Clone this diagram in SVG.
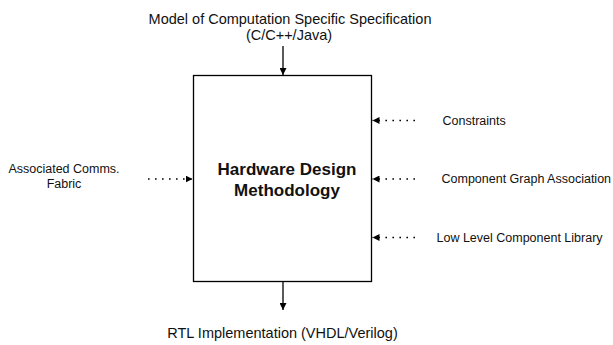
<svg xmlns="http://www.w3.org/2000/svg" width="613" height="345" viewBox="0 0 613 345">
<style>
text{font-family:"Liberation Sans",Arial,sans-serif;fill:#111}
.lbl{font-size:14.5px}
.side{font-size:12.5px}
.title{font-size:17px;font-weight:bold}
.solid{stroke:#000;stroke-width:1.3;fill:none}
.dot{stroke:#000;stroke-width:1.6;fill:none;stroke-dasharray:1.6,5.4}
</style>
<defs>
<marker id="ah" viewBox="0 0 10 10" refX="10" refY="5" markerWidth="7" markerHeight="7" markerUnits="userSpaceOnUse" orient="auto">
<path d="M0,0 L10,5 L0,10 z" fill="#000"/>
</marker>
</defs>
<rect width="613" height="345" fill="#fff"/>
<g id="hdm">
<rect x="193.5" y="75.5" width="178" height="206" fill="#fff" stroke="#000" stroke-width="1.3"/>
<text class="title" x="287" y="175" text-anchor="middle">Hardware Design</text>
<text class="title" x="287" y="196" text-anchor="middle">Methodology</text>
</g>
<g id="spec">
<text class="lbl" x="290" y="23.5" text-anchor="middle">Model of Computation Specific Specification</text>
<text class="lbl" x="289" y="39.5" text-anchor="middle">(C/C++/Java)</text>
</g>
<g id="rtl">
<text class="lbl" x="282.5" y="338" text-anchor="middle">RTL Implementation (VHDL/Verilog)</text>
</g>
<g id="fabric">
<text class="side" x="64" y="173" text-anchor="middle">Associated Comms.</text>
<text class="side" x="64" y="188" text-anchor="middle">Fabric</text>
</g>
<g id="constraints">
<text class="side" x="442.5" y="124.5">Constraints</text>
</g>
<g id="cga">
<text class="side" x="441.5" y="183">Component Graph Association</text>
</g>
<g id="llcl">
<text class="side" x="436.5" y="242">Low Level Component Library</text>
</g>
<g id="connectors">
<line class="solid" x1="283" y1="46" x2="283" y2="75" marker-end="url(#ah)"/>
<line class="solid" x1="283" y1="282" x2="283" y2="310" marker-end="url(#ah)"/>
<line class="dot" x1="148" y1="179" x2="192.5" y2="179" marker-end="url(#ah)"/>
<line class="dot" x1="415" y1="120.5" x2="372.5" y2="120.5" marker-end="url(#ah)"/>
<line class="dot" x1="415" y1="179" x2="372.5" y2="179" marker-end="url(#ah)"/>
<line class="dot" x1="415" y1="237.5" x2="372.5" y2="237.5" marker-end="url(#ah)"/>
</g>
</svg>
